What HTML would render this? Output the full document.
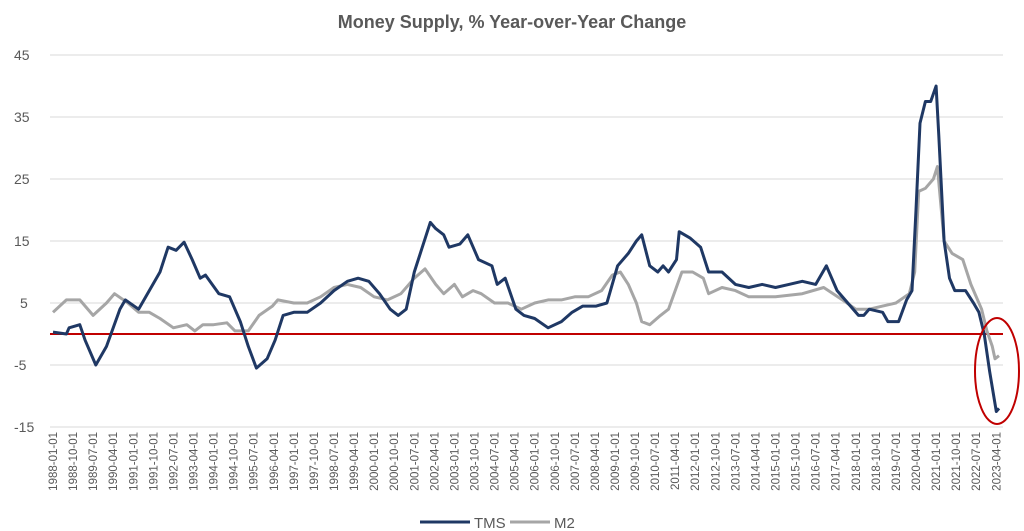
<!DOCTYPE html>
<html><head><meta charset="utf-8"><style>
html,body{margin:0;padding:0;background:#fff;width:1024px;height:531px;overflow:hidden}
svg{display:block;font-family:"Liberation Sans",sans-serif}
</style></head><body>
<svg id="s" width="1024" height="531" viewBox="0 0 1024 531" xmlns="http://www.w3.org/2000/svg">
<text x="512" y="28" text-anchor="middle" font-size="18" font-weight="bold" fill="#595959">Money Supply, % Year-over-Year Change</text>
<g id="grid" stroke="#d9d9d9" stroke-width="1"></g>
<g id="yl" font-size="14" fill="#595959"></g>
<g id="xl" font-size="11.5" fill="#595959"></g>
<line x1="50" x2="1003" y1="334" y2="334" stroke="#c00000" stroke-width="2"/>
<polyline id="m2" fill="none" stroke="#a6a6a6" stroke-width="3" stroke-linejoin="round"/>
<polyline id="tms" fill="none" stroke="#1f3864" stroke-width="3" stroke-linejoin="round"/>
<ellipse cx="997" cy="371" rx="22" ry="53" fill="none" stroke="#c00000" stroke-width="2"/>
<line x1="420" x2="470" y1="522" y2="522" stroke="#1f3864" stroke-width="3"/>
<text x="474" y="528" font-size="15" fill="#595959">TMS</text>
<line x1="510" x2="550" y1="522" y2="522" stroke="#a6a6a6" stroke-width="3"/>
<text x="554" y="528" font-size="15" fill="#595959">M2</text>
</svg>
<script>
const NS="http://www.w3.org/2000/svg";
const Y=v=>303-(v-5)*6.2, X=t=>53+26.76*(t-1988);
const g=document.getElementById('grid'),yl=document.getElementById('yl'),xl=document.getElementById('xl');
for(let v=45;v>=-15;v-=10){let l=document.createElementNS(NS,'line');l.setAttribute('x1',50);l.setAttribute('x2',1003);l.setAttribute('y1',Y(v));l.setAttribute('y2',Y(v));g.appendChild(l);
let t=document.createElementNS(NS,'text');t.setAttribute('x',v<0?14:(v>=10?14:20));t.setAttribute('y',Y(v)+5);t.textContent=v;yl.appendChild(t);}
for(let m=0;m<=423;m+=9){let yr=1988+Math.floor(m/12),mo=m%12+1;let x=53+2.23*m;let t=document.createElementNS(NS,'text');
t.setAttribute('transform','translate('+(x+4)+',432) rotate(-90)');t.setAttribute('text-anchor','end');t.textContent=yr+'-'+String(mo).padStart(2,'0')+'-01';xl.appendChild(t);}
const tms=[[1988,.3],[1988.5,0],[1988.6,1],[1989,1.5],[1989.2,-1],[1989.6,-5],[1990,-2],[1990.5,4],[1990.7,5.5],[1991.2,4],[1991.6,7],[1992,10],[1992.3,14],[1992.6,13.5],[1992.9,14.8],[1993.2,12],[1993.5,9],[1993.7,9.5],[1994.2,6.5],[1994.6,6],[1995,2],[1995.3,-2],[1995.6,-5.5],[1996,-4],[1996.3,-1],[1996.6,3],[1997,3.5],[1997.5,3.5],[1998,5],[1998.5,7],[1999,8.5],[1999.4,9],[1999.8,8.5],[2000.2,6.5],[2000.6,4],[2000.9,3],[2001.2,4],[2001.5,10],[2001.8,14],[2002.1,18],[2002.3,17],[2002.6,16],[2002.8,14],[2003.2,14.5],[2003.5,16],[2003.9,12],[2004.4,11],[2004.6,8],[2004.9,9],[2005.3,4],[2005.6,3],[2006,2.5],[2006.5,1],[2007,2],[2007.4,3.5],[2007.8,4.5],[2008.3,4.5],[2008.7,5],[2009.1,11],[2009.5,13],[2009.8,15],[2010,16],[2010.3,11],[2010.6,10],[2010.8,11],[2011,10],[2011.3,12],[2011.4,16.5],[2011.8,15.5],[2012.2,14],[2012.5,10],[2013,10],[2013.5,8],[2014,7.5],[2014.5,8],[2015,7.5],[2015.5,8],[2016,8.5],[2016.5,8],[2016.9,11],[2017.3,7],[2017.7,5],[2018.1,3],[2018.3,3],[2018.5,4],[2019,3.5],[2019.2,2],[2019.6,2],[2019.9,5.5],[2020.1,7],[2020.25,20],[2020.4,34],[2020.6,37.5],[2020.8,37.5],[2021,40],[2021.1,32],[2021.3,15],[2021.5,9],[2021.7,7],[2022.1,7],[2022.4,5],[2022.6,3.5],[2022.8,0],[2023,-6],[2023.25,-12.5],[2023.35,-12]];
const m2=[[1988,3.5],[1988.5,5.5],[1989,5.5],[1989.5,3],[1990,5],[1990.3,6.5],[1990.8,5],[1991.2,3.5],[1991.6,3.5],[1992,2.5],[1992.5,1],[1993,1.5],[1993.3,.5],[1993.6,1.5],[1994,1.5],[1994.5,1.8],[1994.8,.5],[1995.3,.5],[1995.7,3],[1996.2,4.5],[1996.4,5.5],[1997,5],[1997.5,5],[1998,6],[1998.5,7.5],[1999,8],[1999.5,7.5],[2000,6],[2000.5,5.5],[2001,6.5],[2001.5,9],[2001.9,10.5],[2002.3,8],[2002.6,6.5],[2003,8],[2003.3,6],[2003.7,7],[2004,6.5],[2004.5,5],[2005,5],[2005.5,4],[2006,5],[2006.5,5.5],[2007,5.5],[2007.5,6],[2008,6],[2008.5,7],[2008.9,9.5],[2009.2,10],[2009.5,8],[2009.8,5],[2010,2],[2010.3,1.5],[2010.7,3],[2011,4],[2011.5,10],[2011.9,10],[2012.3,9],[2012.5,6.5],[2013,7.5],[2013.5,7],[2014,6],[2015,6],[2016,6.5],[2016.8,7.5],[2017.5,5.5],[2018,4],[2018.5,4],[2019,4.5],[2019.5,5],[2020,6.5],[2020.2,10],[2020.35,23],[2020.6,23.5],[2020.9,25],[2021.05,27],[2021.3,15],[2021.6,13],[2022,12],[2022.3,8],[2022.7,4],[2022.9,.5],[2023.1,-2],[2023.2,-4],[2023.35,-3.5]];
const pts=a=>a.map(p=>X(p[0]).toFixed(1)+','+Y(p[1]).toFixed(1)).join(' ');
document.getElementById('tms').setAttribute('points',pts(tms));
document.getElementById('m2').setAttribute('points',pts(m2));
</script>
</body></html>
